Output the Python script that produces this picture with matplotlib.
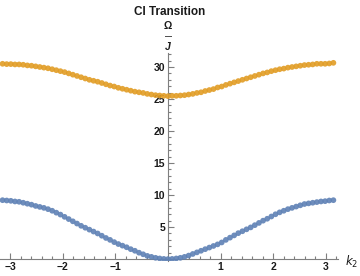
import numpy as np
import matplotlib.pyplot as plt
from matplotlib.ticker import MultipleLocator, FixedLocator

# k2 sampled over [-pi, pi]
k2 = np.linspace(-np.pi, np.pi, 81)

# lower band (blue)
lower = [9.2, 9.15, 9.1, 9.0, 8.95, 8.8, 8.65, 8.5, 8.3, 8.15,
         8.0, 7.8, 7.55, 7.25, 6.95, 6.6, 6.25, 5.9, 5.55, 5.2,
         4.9, 4.6, 4.3, 4.0, 3.65, 3.3, 3.0, 2.65, 2.35, 2.1,
         1.85, 1.55, 1.3, 1.0, 0.75, 0.5, 0.35, 0.2, 0.1, 0.03,
         0.0,
         0.03, 0.1, 0.2, 0.35, 0.55, 0.8, 1.05, 1.3, 1.55, 1.8,
         2.05, 2.3, 2.6, 3.0, 3.35, 3.7, 4.05, 4.35, 4.65, 4.95,
         5.3, 5.65, 6.0, 6.3, 6.65, 7.0, 7.3, 7.55, 7.8, 8.0,
         8.2, 8.4, 8.6, 8.7, 8.8, 8.9, 9.0, 9.05, 9.15, 9.2]

# upper band (orange)
upper = [30.5, 30.45, 30.45, 30.4, 30.4, 30.35, 30.25, 30.2, 30.1, 30.0,
         29.9, 29.8, 29.65, 29.5, 29.35, 29.2, 29.0, 28.8, 28.6, 28.4,
         28.2, 28.0, 27.85, 27.7, 27.5, 27.3, 27.1, 26.95, 26.75, 26.6,
         26.45, 26.3, 26.15, 26.05, 25.95, 25.8, 25.7, 25.6, 25.55, 25.5,
         25.45,
         25.5, 25.5, 25.55, 25.6, 25.7, 25.8, 25.95, 26.05, 26.25, 26.4,
         26.55, 26.8, 26.95, 27.2, 27.4, 27.6, 27.8, 28.0, 28.2, 28.4,
         28.6, 28.8, 29.0, 29.15, 29.35, 29.5, 29.65, 29.75, 29.9, 30.0,
         30.1, 30.2, 30.3, 30.35, 30.4, 30.5, 30.5, 30.5, 30.55, 30.65]

xticks = [-3, -2, -1, 1, 2, 3]
yticks = [5, 10, 15, 20, 25, 30]

plt.rcParams['font.family'] = ['Liberation Sans', 'DejaVu Sans']

fig = plt.figure(figsize=(3.6, 2.76), dpi=100)
ax = fig.add_axes([0.0, 0.0543, 0.939, 0.754])

ax.scatter(k2, lower, s=17, color='#5E81B5', edgecolors='none', alpha=0.9, zorder=3)
ax.scatter(k2, upper, s=17, color='#E19C24', edgecolors='none', alpha=0.9, zorder=3)

ax.set_xlim(-3.19, 3.23)
ax.set_ylim(-0.3, 32.2)

# Mathematica-style axes crossing at the origin
for s in ['top', 'right']:
    ax.spines[s].set_visible(False)
ax.spines['left'].set_position(('data', 0))
ax.spines['bottom'].set_position(('data', 0))
for s in ['left', 'bottom']:
    ax.spines[s].set_color('#7f7f7f')
    ax.spines[s].set_linewidth(0.8)

ax.xaxis.set_major_locator(FixedLocator(xticks))
ax.yaxis.set_major_locator(FixedLocator(yticks))
ax.xaxis.set_minor_locator(MultipleLocator(0.2))
ax.yaxis.set_minor_locator(MultipleLocator(1))
ax.tick_params(which='both', direction='in', color='#7f7f7f', width=0.8,
               labelsize=7.5, labelcolor='#1a1a1a', pad=2)
ax.tick_params(which='major', length=4)
ax.tick_params(which='minor', length=2)
for lab in ax.get_xticklabels() + ax.get_yticklabels():
    lab.set_fontweight('bold')

fig.text(0.472, 0.978, 'CI Transition', ha='center', va='top',
         fontsize=8.5, fontweight='bold', color='#1a1a1a')
fig.text(0.467, 0.905, 'Ω', ha='center', va='center', fontsize=7.5,
         fontweight='bold', color='#1a1a1a')
fig.text(0.467, 0.868, '—', ha='center', va='center', fontsize=5,
         fontweight='bold', color='#1a1a1a')
fig.text(0.467, 0.828, 'J', ha='center', va='center', fontsize=7.5,
         fontweight='bold', style='italic', color='#1a1a1a')
fig.text(0.958, 0.05, '$k_2$', ha='left', va='center', fontsize=8.5,
         color='#1a1a1a')

fig.savefig('out.png', dpi=100)
